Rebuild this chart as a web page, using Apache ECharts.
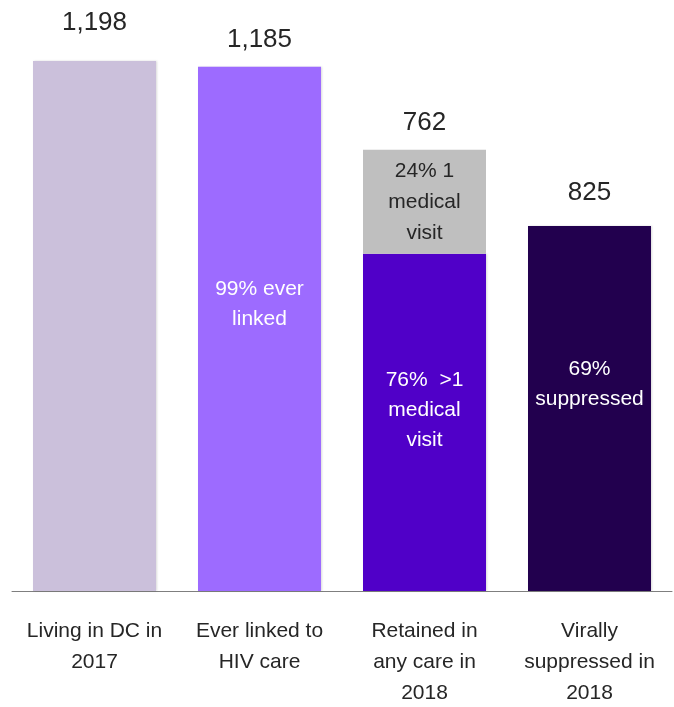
<!DOCTYPE html>
<html>
<head>
<meta charset="utf-8">
<script src="https://cdn.jsdelivr.net/npm/echarts@6/dist/echarts.min.js"></script>
<style>
  html, body { margin: 0; padding: 0; background: #fff; }
  #container { width: 674px; height: 707px; }
</style>
</head>
<body>
<div id="container"></div>
<script>
var categories = ['Living in DC in\n2017', 'Ever linked to\nHIV care', 'Retained in\nany care in\n2018', 'Virally\nsuppressed in\n2018'];
var counts = [1198, 1185, 762, 825];
var oneVisit = [0, 0, 235, 0];
var insideText = ['', '99% ever\nlinked', '76%  >1\nmedical\nvisit', '69%\nsuppressed'];
var oneVisitText = ['', '', '24% 1\nmedical\nvisit', ''];
var barColors = ['#cbc0db', '#9d6bff', '#5000c8', '#22004e'];

var FONT = 'Liberation Sans';

document.addEventListener('DOMContentLoaded', function () {
    drawChart();
});

function drawChart() {
    var myChart = echarts.init(document.getElementById('container'));
    var labelGap = [25, 14, 14, 20];
    var insideOffset = [0, -25, -12, -24];

    var mainData = counts.map(function (v, i) {
        return {
            value: v,
            itemStyle: { color: barColors[i] },
            label: { offset: [0, insideOffset[i]] }
        };
    });
    var topData = counts.map(function (v, i) {
        return { value: 0, label: { distance: labelGap[i] } };
    });

    var option = {
        animation: false,
        grid: {
            left: 12,
            right: 2,
            top: 60,
            bottom: 116,
            outerBoundsMode: 'none'
        },
        xAxis: {
            type: 'category',
            data: categories,
            axisLine: { lineStyle: { color: '#7f7f7f', width: 1 } },
            axisTick: { show: false },
            axisLabel: {
                interval: 0,
                margin: 25,
                fontFamily: FONT,
                fontSize: 21,
                lineHeight: 31,
                color: '#262626'
            }
        },
        yAxis: {
            type: 'value',
            min: 0,
            max: 1200,
            show: false,
            splitLine: { show: false }
        },
        series: [{
            name: 'count',
            type: 'bar',
            stack: 'a',
            barWidth: 123,
            data: mainData,
            itemStyle: {
                shadowBlur: 2,
                shadowOffsetX: 1,
                shadowColor: 'rgba(0,0,0,0.15)'
            },
            label: {
                show: true,
                position: 'inside',
                fontFamily: FONT,
                fontSize: 21,
                lineHeight: 30,
                color: '#ffffff',
                formatter: function (p) {
                    return insideText[p.dataIndex];
                }
            }
        }, {
            name: 'one visit',
            type: 'bar',
            stack: 'a',
            barWidth: 123,
            data: oneVisit,
            itemStyle: { color: '#bfbfbf' },
            label: {
                show: true,
                position: 'inside',
                fontFamily: FONT,
                fontSize: 21,
                lineHeight: 31,
                color: '#262626',
                formatter: function (p) {
                    return oneVisitText[p.dataIndex];
                }
            }
        }, {
            name: 'total',
            type: 'bar',
            stack: 'a',
            barWidth: 123,
            data: topData,
            itemStyle: { color: 'transparent' },
            label: {
                show: true,
                position: 'top',
                fontFamily: FONT,
                fontSize: 26,
                color: '#262626',
                formatter: function (p) {
                    return counts[p.dataIndex].toLocaleString('en-US');
                }
            }
        }]
    };
    myChart.setOption(option, true);
}
</script>
</body>
</html>
